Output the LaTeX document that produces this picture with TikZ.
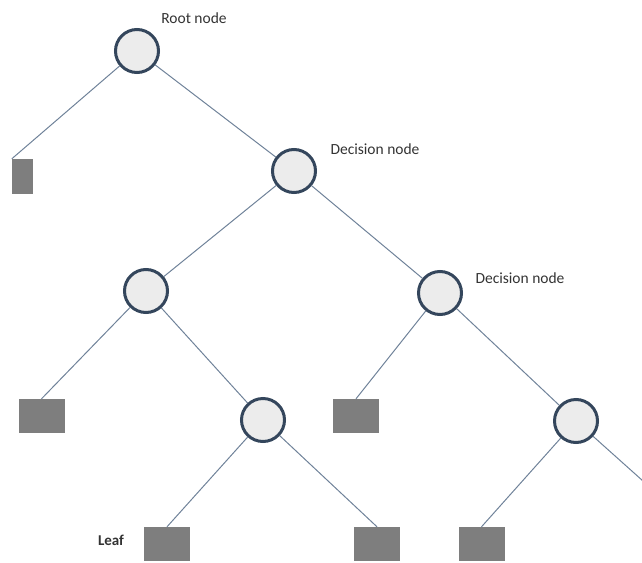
\documentclass[tikz,border=0pt]{standalone}
\usepackage{fontspec}
\setmainfont{Carlito}
\definecolor{edgeblue}{HTML}{6F8299}
\definecolor{ringcol}{HTML}{34465C}
\definecolor{nodefill}{HTML}{ECECEC}
\definecolor{leaffill}{HTML}{7E7E7E}
\definecolor{labelcol}{HTML}{333333}
\begin{document}
\begin{tikzpicture}[x=1pt,y=-1pt,
  decision/.style={circle,draw=ringcol,fill=nodefill,line width=3pt,minimum size=43pt,inner sep=0pt},
  leafbox/.style={rectangle,fill=leaffill,draw=none,minimum width=46pt,minimum height=34pt,inner sep=0pt},
  branch/.style={draw=edgeblue,line width=1pt},
  tag/.style={text=labelcol,font=\fontsize{15.5}{18}\selectfont,inner sep=0pt}]
\useasboundingbox (0,0) rectangle (642,562);
\clip (0,0) rectangle (642,562);

% free end of the branch that leaves the page on the right
\coordinate (out) at (662,498);

% internal nodes
\node[decision] (root) at (137,51) {};
\node[decision] (d1) at (294,171) {};
\node[decision] (c2) at (146,291) {};
\node[decision] (d2) at (440,293) {};
\node[decision] (c3) at (263,420) {};
\node[decision] (c4) at (576,421) {};

% leaves
\node[leafbox,minimum width=21pt,minimum height=35pt] (l0) at (22.5,176.5) {};
\node[leafbox] (l1) at (41.5,416) {};
\node[leafbox] (l2) at (356,416) {};
\node[leafbox] (l3) at (167,544) {};
\node[leafbox] (l4) at (377,544) {};
\node[leafbox] (l5) at (481.5,544) {};

% branches
\path[branch] (root) -- (l0.north west);
\path[branch] (root) -- (d1);
\path[branch] (d1) -- (c2);
\path[branch] (d1) -- (d2);
\path[branch] (c2) -- (l1.north);
\path[branch] (c2) -- (c3);
\path[branch] (c3) -- (l3.north);
\path[branch] (c3) -- (l4.north);
\path[branch] (d2) -- (l2.north);
\path[branch] (d2) -- (c4);
\path[branch] (c4) -- (l5.north);
\path[branch] (c4) -- (out);

% labels
\node[tag] (troot) at (194,18) {Root node};
\node[tag] (td1) at (375,149) {Decision node};
\node[tag] (td2) at (520,278) {Decision node};
\node[tag,font=\fontsize{15}{18}\selectfont\bfseries] (tleaf) at (111,540) {Leaf};
\end{tikzpicture}
\end{document}
